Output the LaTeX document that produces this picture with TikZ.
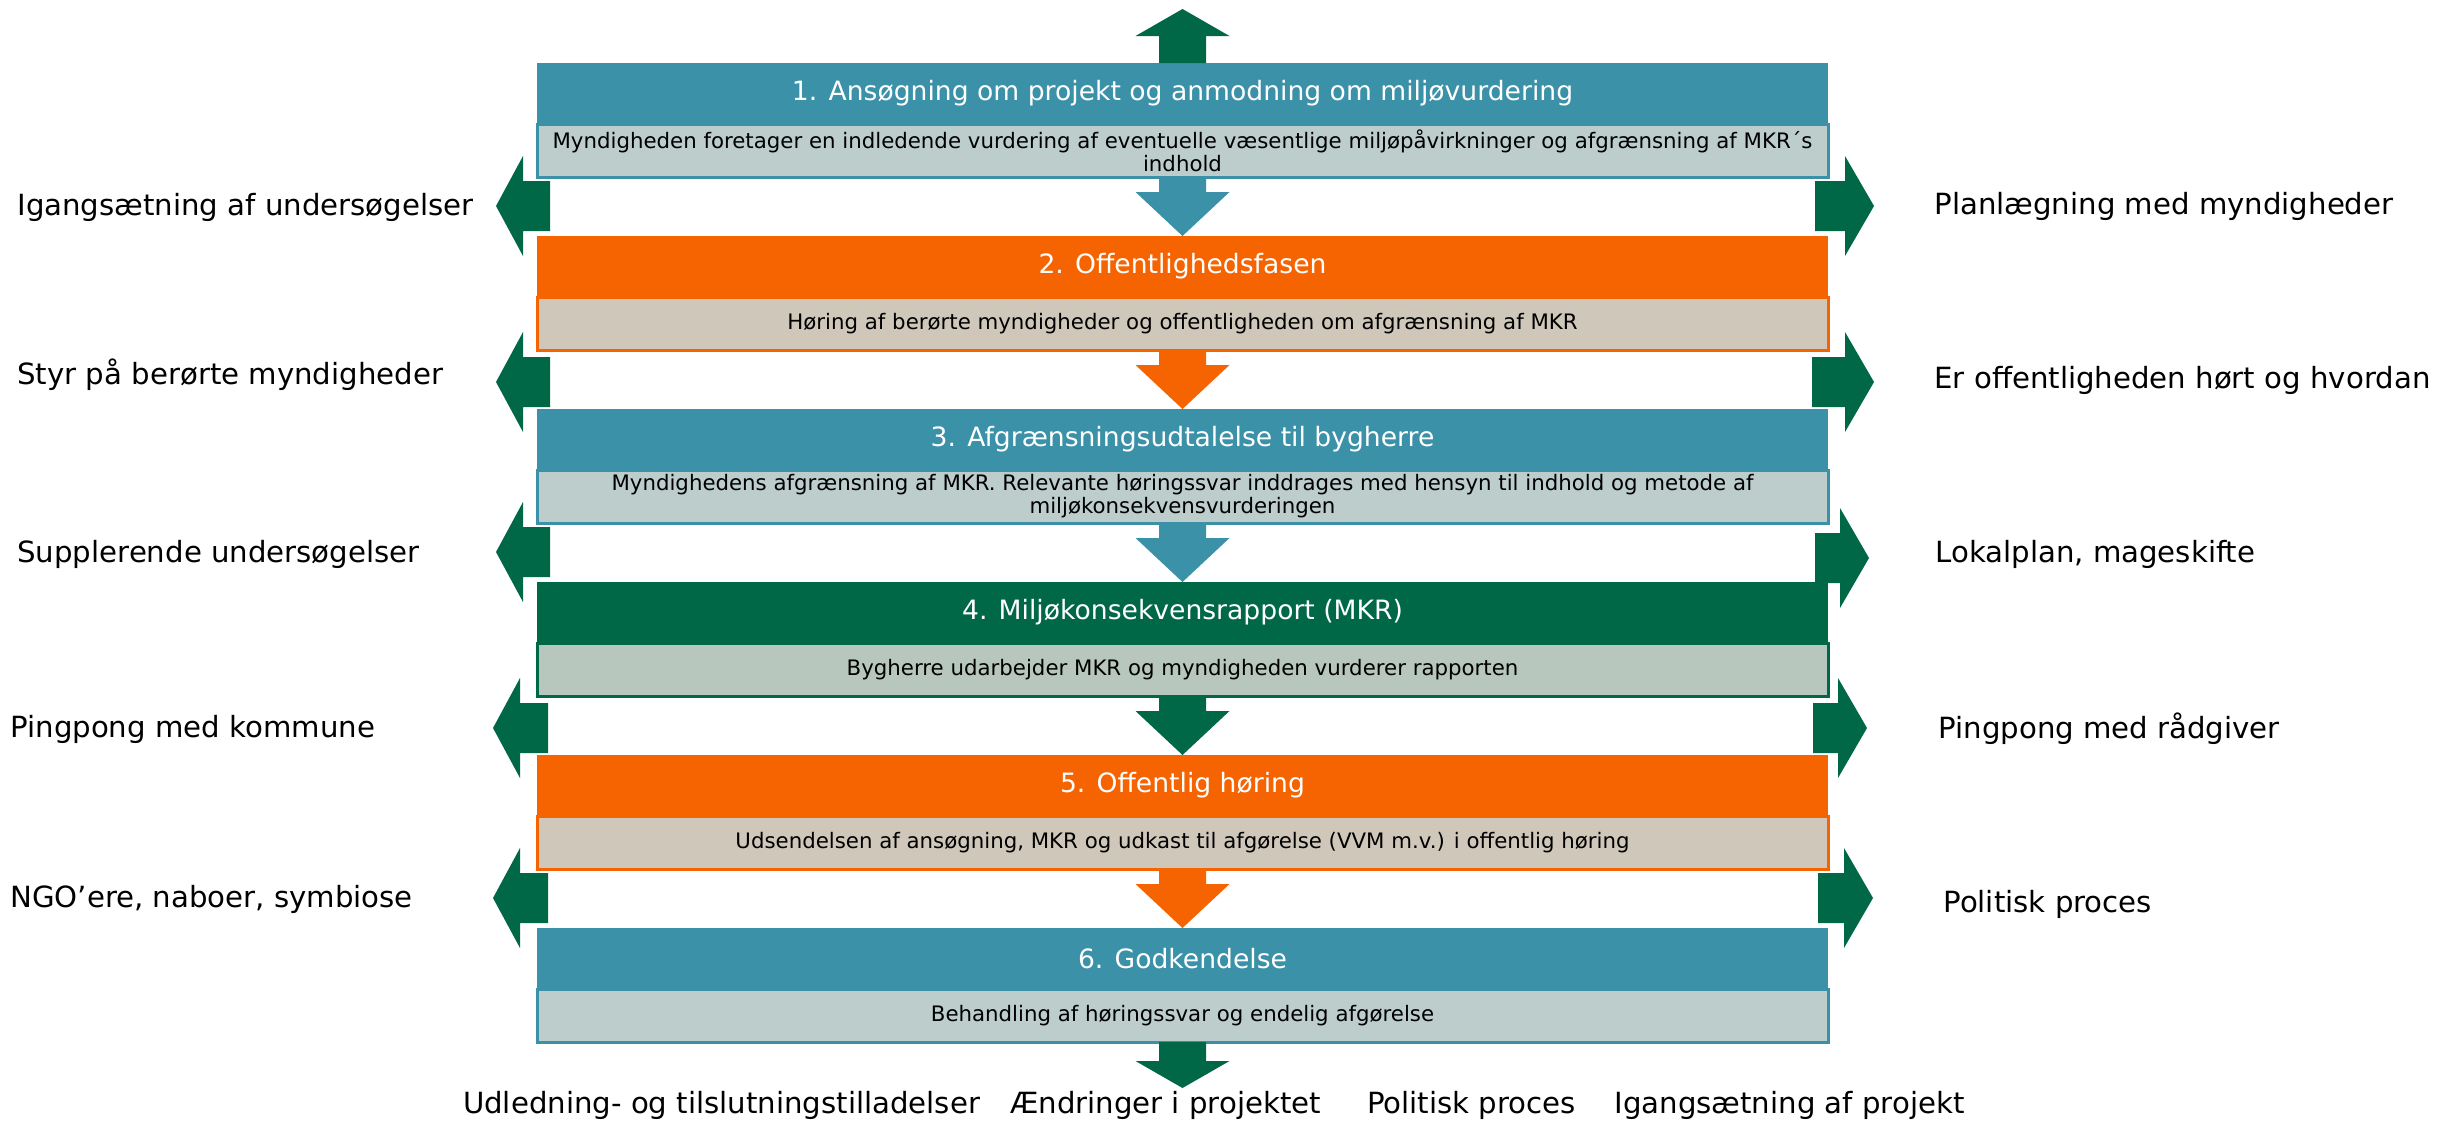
\documentclass[tikz,border=0pt]{standalone}
\usepackage{fontspec}
\setmainfont{DejaVu Sans}
\usepackage{tikz}
\usetikzlibrary{positioning,calc}
\definecolor{phaseblue}{RGB}{59,145,168}
\definecolor{phaseorange}{RGB}{245,100,0}
\definecolor{phasegreen}{RGB}{0,103,71}
\definecolor{lightteal}{RGB}{188,205,204}
\definecolor{lightsand}{RGB}{207,199,186}
\definecolor{lightsage}{RGB}{183,199,190}

% fat arrow: colour, tail, tip, half shaft, half head, head length
\newcommand{\blockarrow}[6]{%
  \path ($(#3)!#6!(#2)$) coordinate (hb);
  \fill[#1] ($(#2)!#4!90:(#3)$) -- ($(hb)!#4!90:(#3)$) -- ($(hb)!#5!90:(#3)$) -- (#3)
    -- ($(hb)!#5!-90:(#3)$) -- ($(hb)!#4!-90:(#3)$) -- ($(#2)!#4!-90:(#3)$) -- cycle;}

\begin{document}
\begin{tikzpicture}[x=0.5pt, y=-0.5pt,
  node distance=29.5pt,
  phase/.style={rectangle, fill=#1, text=white, minimum width=645.5pt, minimum height=30.5pt,
                inner sep=0pt, outer sep=0pt, font=\fontsize{13.3}{16}\selectfont},
  info/.style 2 args={rectangle, draw=#1, fill=#2, line width=1.5pt, minimum width=645.5pt,
                minimum height=26.5pt, inner sep=0pt, outer sep=0pt, align=center,
                font=\fontsize{10.65}{11.5}\selectfont},
  side/.style={anchor=base west, inner sep=0pt, font=\fontsize{14.6}{17}\selectfont},
  outcome/.style={anchor=base, inner sep=0pt, font=\fontsize{14.6}{17}\selectfont}
]
  \useasboundingbox (0,0) rectangle (2463,1121);

  \node[phase=phaseblue] (t1) at (1182.5,93.5) {1. Ansøgning om projekt og anmodning om miljøvurdering};
  \node[info={phaseblue}{lightteal}, below=0pt of t1] (d1)
    {Myndigheden foretager en indledende vurdering af eventuelle væsentlige miljøpåvirkninger og afgrænsning af MKR´s\\indhold};
  \node[phase=phaseorange, below=of d1] (t2) {2. Offentlighedsfasen};
  \node[info={phaseorange}{lightsand}, below=0pt of t2] (d2)
    {Høring af berørte myndigheder og offentligheden om afgrænsning af MKR};
  \node[phase=phaseblue, below=of d2] (t3) {3. Afgrænsningsudtalelse til bygherre};
  \node[info={phaseblue}{lightteal}, below=0pt of t3] (d3)
    {Myndighedens afgrænsning af MKR. Relevante høringssvar inddrages med hensyn til indhold og metode af\\miljøkonsekvensvurderingen};
  \node[phase=phasegreen, below=of d3] (t4) {4. Miljøkonsekvensrapport (MKR)};
  \node[info={phasegreen}{lightsage}, below=0pt of t4] (d4)
    {Bygherre udarbejder MKR og myndigheden vurderer rapporten};
  \node[phase=phaseorange, below=of d4] (t5) {5. Offentlig høring};
  \node[info={phaseorange}{lightsand}, below=0pt of t5] (d5)
    {Udsendelsen af ansøgning, MKR og udkast til afgørelse (VVM m.v.) i offentlig høring};
  \node[phase=phaseblue, below=of d5] (t6) {6. Godkendelse};
  \node[info={phaseblue}{lightteal}, below=0pt of t6] (d6)
    {Behandling af høringssvar og endelig afgørelse};

  \blockarrow{phaseblue}{d1.south}{t2.north}{11.75pt}{23.5pt}{22pt}
  \blockarrow{phaseorange}{d2.south}{t3.north}{11.75pt}{23.5pt}{22pt}
  \blockarrow{phaseblue}{d3.south}{t4.north}{11.75pt}{23.5pt}{22pt}
  \blockarrow{phasegreen}{d4.south}{t5.north}{11.75pt}{23.5pt}{22pt}
  \blockarrow{phaseorange}{d5.south}{t6.north}{11.75pt}{23.5pt}{22pt}

  \coordinate (topend) at (1182.5,9);
  \coordinate (botend) at (1182.5,1088);
  \blockarrow{phasegreen}{t1.north}{topend}{11.75pt}{23.5pt}{13.5pt}
  \blockarrow{phasegreen}{d6.south}{botend}{11.75pt}{23.5pt}{13.5pt}

  \coordinate (l1a) at (550,206);  \coordinate (l1b) at (496,206);
  \coordinate (l2a) at (550,382);  \coordinate (l2b) at (496,382);
  \coordinate (l3a) at (550,552);  \coordinate (l3b) at (496,552);
  \coordinate (l4a) at (548,728);  \coordinate (l4b) at (493,728);
  \coordinate (l5a) at (548,898);  \coordinate (l5b) at (493,898);
  \coordinate (r1a) at (1815,206); \coordinate (r1b) at (1874,206);
  \coordinate (r2a) at (1812,382); \coordinate (r2b) at (1874,382);
  \coordinate (r3a) at (1815,558); \coordinate (r3b) at (1869,558);
  \coordinate (r4a) at (1813,728); \coordinate (r4b) at (1867,728);
  \coordinate (r5a) at (1818,898); \coordinate (r5b) at (1873,898);
  \blockarrow{phasegreen}{l1a}{l1b}{12.5pt}{25pt}{13.5pt}
  \blockarrow{phasegreen}{l2a}{l2b}{12.5pt}{25pt}{13.5pt}
  \blockarrow{phasegreen}{l3a}{l3b}{12.5pt}{25pt}{13.5pt}
  \blockarrow{phasegreen}{l4a}{l4b}{12.5pt}{25pt}{13.5pt}
  \blockarrow{phasegreen}{l5a}{l5b}{12.5pt}{25pt}{13.5pt}
  \blockarrow{phasegreen}{r1a}{r1b}{12.5pt}{25pt}{14.5pt}
  \blockarrow{phasegreen}{r2a}{r2b}{12.5pt}{25pt}{14.5pt}
  \blockarrow{phasegreen}{r3a}{r3b}{12.5pt}{25pt}{14.5pt}
  \blockarrow{phasegreen}{r4a}{r4b}{12.5pt}{25pt}{14.5pt}
  \blockarrow{phasegreen}{r5a}{r5b}{12.5pt}{25pt}{14.5pt}

  \node[side] (igang) at (17,215) {Igangsætning af undersøgelser};
  \node[side] (styr) at (17,384) {Styr på berørte myndigheder};
  \node[side] (suppl) at (17,562) {Supplerende undersøgelser};
  \node[side] (pingk) at (10,737) {Pingpong med kommune};
  \node[side] (ngo) at (10,907) {NGO’ere, naboer, symbiose};
  \node[side] (plan) at (1934,214) {Planlægning med myndigheder};
  \node[side] (hoert) at (1934,388) {Er offentligheden hørt og hvordan};
  \node[side] (lokal) at (1935,562) {Lokalplan, mageskifte};
  \node[side] (pingr) at (1938,738) {Pingpong med rådgiver};
  \node[side] (polit) at (1943,912) {Politisk proces};

  \node[outcome] (udled) at (721.5,1113) {Udledning- og tilslutningstilladelser};
  \node[outcome] (aendr) at (1165.5,1113) {Ændringer i projektet};
  \node[outcome] (politb) at (1471.5,1113) {Politisk proces};
  \node[outcome] (igangp) at (1789.5,1113) {Igangsætning af projekt};
\end{tikzpicture}
\end{document}
